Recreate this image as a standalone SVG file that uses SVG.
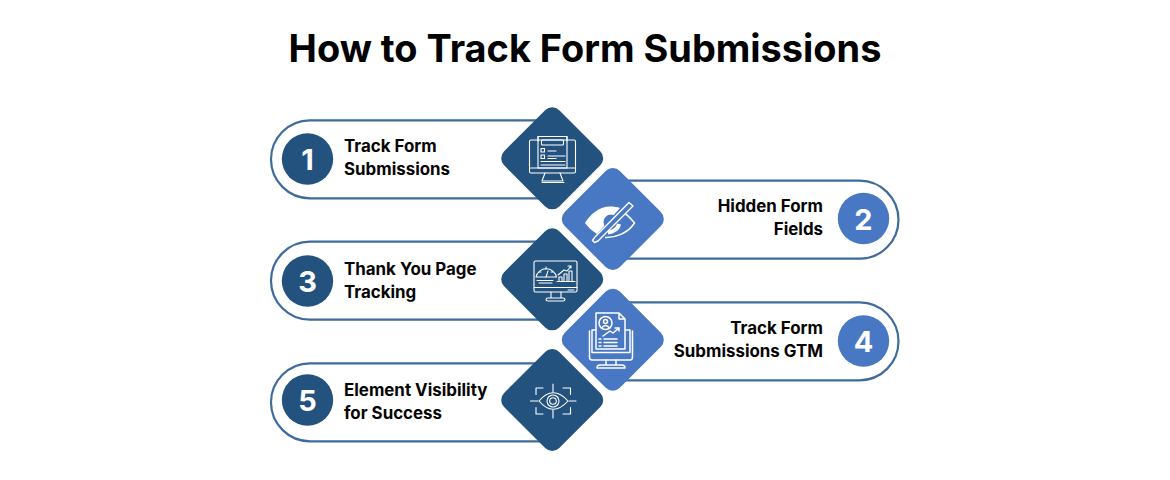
<svg xmlns="http://www.w3.org/2000/svg" width="1170" height="480" viewBox="0 0 1170 480">
<style>
.pill{fill:#fff;stroke:#3f6b9c;stroke-width:2.2}
.d1{fill:#24527e}.d2{fill:#4878c3}
.t{font-family:Inter,"Liberation Sans",sans-serif;font-weight:700;font-size:16.9px;fill:#050505}
.r{text-anchor:end}
.n{font-family:Inter,"Liberation Sans",sans-serif;font-weight:700;font-size:29px;fill:#fff;text-anchor:middle}
.i{fill:none;stroke:#fff;stroke-width:1.1;stroke-linecap:round;stroke-linejoin:round}
.i2{fill:none;stroke:#fff;stroke-width:1.5;stroke-linecap:round;stroke-linejoin:round}
</style>
<rect width="1170" height="480" fill="#fff"/>
<text x="585" y="61.500" text-anchor="middle" font-family="Inter,'Liberation Sans',sans-serif" font-weight="700" font-size="37.900" fill="#000">How to Track Form Submissions</text>
<g id="connectors">
<path class="pill" d="M540 120.300H310A39 39 0 0 0 310 198.300H540"/>
<path class="pill" d="M625 180.700H859.500A39 39 0 0 1 859.500 258.700H625"/>
<path class="pill" d="M540 241.700H310A39 39 0 0 0 310 319.700H540"/>
<path class="pill" d="M625 302.300H859.500A39 39 0 0 1 859.500 380.300H625"/>
<path class="pill" d="M540 363.300H310A39 39 0 0 0 310 441.300H540"/>
</g>
<g id="node1">
<circle class="d1" cx="307.500" cy="159" r="25.700"/>
<text class="n" x="307.500" y="170">1</text>
<text class="t" x="344" y="152">Track Form</text><text class="t" x="344" y="175">Submissions</text>
<rect class="d1" x="513.200" y="119.300" width="78" height="78" rx="10" transform="rotate(45 552.200 158.300)"/>
<g class="i">
<path d="M538 141V136.500H567V141"/><rect x="529.500" y="140" width="46" height="33" rx="1.500"/>
<path d="M538 136.500V168H567V136.500"/>
<rect x="541.500" y="140" width="22" height="5" rx="1"/>
<rect x="541" y="148.500" width="3.500" height="3.500"/><rect x="541" y="155" width="3.500" height="3.500"/>
<path d="M548 151H556M548 156H565M548 158.500H556M541 161.500H565M541 165H565"/>
<path d="M529.500 168H575.500M545 173L542 181H563L560 173M542 182.500H564"/>
</g></g>
<g id="node2">
<circle class="d2" cx="863.500" cy="218.500" r="25.700"/>
<text class="n" x="863.500" y="229.500">2</text>
<text class="t r" x="823" y="212">Hidden Form</text><text class="t r" x="823" y="235">Fields</text>
<rect class="d2" x="573.800" y="180" width="78" height="78" rx="10" transform="rotate(45 612.800 219)"/>
<path d="M585 223C590 214 600 206.500 610 206.500C614 206.500 617 207 620 208L597 234C592 231 588 227 585 223Z" fill="#fff"/>
<circle cx="611" cy="222" r="7.500" fill="#4878c3"/>
<path d="M624 213C629 216 632 220 634.500 223C628 233 616 238 605 237.500" fill="none" stroke="#fff" stroke-width="1.500"/>
<path d="M619 224C618 229 613 232 608 232.500" fill="none" stroke="#fff" stroke-width="4"/>
<path d="M595 237L592.500 240.500L594.500 242.500L598 241L633 206L629 202.500Z" fill="#4878c3" stroke="#fff" stroke-width="1.400" stroke-linejoin="round"/>
</g>
<g id="node3">
<circle class="d1" cx="307.500" cy="281" r="25.700"/>
<text class="n" x="307.500" y="292">3</text>
<text class="t" x="344" y="275">Thank You Page</text><text class="t" x="344" y="298">Tracking</text>
<rect class="d1" x="513.200" y="240.300" width="78" height="78" rx="10" transform="rotate(45 552.200 279.300)"/>
<g class="i">
<rect x="534" y="261" width="43" height="31" rx="1.500"/>
<path d="M536 277A10.500 10.500 0 0 1 556.500 277Z"/><path d="M546 277L548 271M546 267V269M539 272H541M553 272H551"/>
<path d="M537 280.500H553M539 283H552"/>
<path d="M557 281.500H575M559 281.500V277H562V281.500M564 281.500V274H567V281.500M569 281.500V271H572V281.500M558 275L564 270L567 271L571 266M571 266H568M571 266V268"/>
<path d="M534 287.500H577M568 290H574M551 292V298M561 292V298M546 299.500Q546 298 548 298H563Q565 298 565 299.500Q565 301 563 301H548Q546 301 546 299.500Z"/>
</g></g>
<g id="node4">
<circle class="d2" cx="863.500" cy="341" r="25.700"/>
<text class="n" x="863.500" y="352">4</text>
<text class="t r" x="823" y="334">Track Form</text><text class="t r" x="823" y="357">Submissions GTM</text>
<rect class="d2" x="573.800" y="300.700" width="78" height="78" rx="10" transform="rotate(45 612.800 339.700)"/>
<g class="i2">
<path d="M596 332V313H619L625 319V349H596V332M619 313V319H625"/>
<circle cx="605.500" cy="323" r="6.500"/><circle cx="605.500" cy="321.500" r="2"/><path d="M601.500 328Q605.500 323 609.500 328"/>
<path d="M603 336L610 331L613 333L619 328M615 328H619V331"/>
<path d="M599 339H601M604 339H617M599 342.500H601M604 342.500H617M599 346H601M604 346H617"/>
<path d="M596 330H592V352.500H630V330H626M589.500 331V357Q589.500 360 592 360H630Q632.500 360 632.500 357V331"/>
<path d="M606 360V365M616 360V365M597 368Q597 365 600 365H622Q625 365 625 368H597Z"/>
</g></g>
<g id="node5">
<circle class="d1" cx="307.500" cy="400" r="25.700"/>
<text class="n" x="307.500" y="411">5</text>
<text class="t" x="344" y="396">Element Visibility</text><text class="t" x="344" y="419">for Success</text>
<rect class="d1" x="513.200" y="361" width="78" height="78" rx="10" transform="rotate(45 552.200 400)"/>
<g class="i">
<path d="M539 401Q553 384.500 568 401Q553 417.500 539 401Z"/>
<circle cx="553" cy="401" r="6"/><circle cx="553" cy="401" r="3.300"/>
<path d="M553 384V392M553 410V418M530.500 401H538M569 401H576"/>
<path d="M536 394.500V388H543M563 388H570.500V394.500M536 407.500V414H543M563 414H570.500V407.500"/>
</g></g>
</svg>
